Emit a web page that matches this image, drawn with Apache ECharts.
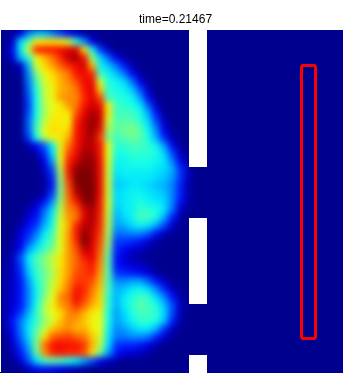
<!DOCTYPE html>
<html>
<head>
<meta charset="utf-8">
<script src="https://cdn.jsdelivr.net/npm/echarts@6/dist/echarts.min.js"></script>
<style>
html,body{margin:0;padding:0;background:#00008f;overflow:hidden}
#c{width:343px;height:373px}
</style>
</head>
<body>
<div id="c"></div>
<script>
const titleText = 'time=0.21467';
const jetColors = ['rgb(0,0,143)','rgb(0,0,188)','rgb(0,0,233)','rgb(0,26,255)','rgb(0,77,255)','rgb(0,128,255)','rgb(0,179,255)','rgb(0,230,255)','rgb(26,255,230)','rgb(77,255,179)','rgb(128,255,128)','rgb(179,255,77)','rgb(230,255,26)','rgb(255,230,0)','rgb(255,179,0)','rgb(255,128,0)','rgb(255,77,0)','rgb(255,26,0)','rgb(230,0,0)','rgb(179,0,0)','rgb(128,0,0)'];
const gridColumns = 43;
const heatRows = [
[0,2,10,26,32,32,26,20,14,8,3],
[0,6,34,46,64,66,66,64,58,42,26,10,2],
[0,12,36,58,84,86,86,88,90,90,66,38,18,6],
[0,8,30,42,62,70,76,84,94,96,86,52,34,22,10,3],
[0,0,6,30,58,66,72,78,84,88,92,70,38,32,24,14,4],
[0,0,2,26,50,62,66,72,76,86,88,84,44,38,32,24,12,3],
[0,0,0,24,44,58,64,70,74,80,88,88,58,40,38,34,24,10,2],
[0,0,0,22,42,56,62,70,72,76,86,90,68,42,40,38,32,20,6],
[0,0,0,20,40,56,62,72,74,74,84,90,80,44,42,40,38,28,12,2],
[0,0,0,18,40,54,60,64,72,76,86,92,88,62,44,42,40,36,22,6],
[0,0,0,20,40,54,62,64,64,80,90,96,92,64,44,44,44,40,30,14,2],
[0,0,0,22,42,56,64,64,62,84,92,98,92,58,46,46,46,42,34,20,6],
[0,0,0,22,44,60,66,64,66,86,92,98,88,54,46,48,50,46,38,26,10,2],
[0,0,0,18,40,56,62,64,70,86,92,96,82,50,44,46,48,46,40,30,16,4],
[0,0,0,4,12,22,38,62,76,86,94,94,86,60,42,42,44,44,42,38,28,12,2],
[0,0,0,0,4,16,34,62,80,88,96,96,86,60,40,40,42,42,42,40,34,20,6],
[0,0,0,0,0,10,28,60,84,92,98,98,88,60,38,38,40,40,40,38,36,26,12,3],
[0,0,0,0,0,6,20,56,86,98,100,98,88,58,36,38,38,38,38,36,34,30,18,6],
[0,0,0,0,0,3,16,52,84,100,100,100,88,58,34,36,36,36,36,34,32,28,18,6],
[0,0,0,0,0,2,14,50,80,98,100,100,88,58,32,34,36,36,34,32,30,26,16,4],
[0,0,0,0,0,4,18,50,78,94,100,100,88,58,34,36,38,38,36,34,32,26,16,4],
[0,0,0,0,4,12,26,52,76,86,98,100,86,58,34,36,38,40,38,36,34,26,14,3],
[0,0,0,4,10,22,34,56,74,78,92,96,86,58,32,36,38,42,42,40,36,24,8,1],
[0,0,0,8,14,26,38,58,72,76,90,96,84,56,30,34,38,44,44,40,30,16,3],
[0,0,4,12,18,30,40,60,70,84,94,94,84,56,28,30,34,38,36,30,20,8,1],
[0,0,8,16,24,36,44,60,72,86,98,92,82,54,24,24,26,26,22,14,6,1],
[0,2,10,20,30,40,46,60,72,84,100,92,80,52,18,18,16,14,8,3],
[0,3,12,28,36,44,50,60,72,80,94,90,78,50,16,12,8,6,3,1],
[1,5,20,36,44,50,56,64,72,78,86,90,76,46,14,8,4,2],
[1,6,18,34,44,50,56,64,72,78,82,86,74,46,14,10,8,6,4],
[2,6,16,32,42,48,54,66,72,80,82,84,72,46,18,16,14,12,8,3],
[3,6,14,28,40,48,56,66,74,82,82,80,70,44,26,26,28,28,22,14,6,1],
[3,6,14,26,38,48,58,68,76,86,84,76,68,44,30,32,36,38,34,26,16,6,1],
[3,7,14,26,38,50,60,74,78,88,82,74,66,42,30,36,40,44,42,34,26,14,4],
[3,8,14,26,40,54,62,72,76,84,78,70,66,42,30,36,42,46,44,40,32,20,6,1],
[3,10,18,30,42,54,60,66,74,76,70,64,62,40,28,34,40,44,44,42,34,20,5],
[3,14,24,34,42,52,58,68,74,72,68,62,60,40,28,32,38,42,42,40,32,16,3],
[2,12,24,36,46,56,68,72,74,70,70,64,60,38,26,28,32,36,36,30,18,6,1],
[0,10,22,34,48,66,78,80,82,78,76,68,58,36,24,24,26,26,24,16,8,2],
[0,6,18,30,50,76,86,88,86,86,82,70,56,34,18,16,16,14,10,4],
[0,4,14,26,46,74,84,86,84,84,80,66,48,28,14,10,8,6,3],
[0,0,8,20,34,44,46,44,40,36,28,20,12,6,3],
[0,0,0,6,12,14,12,10,6,4,2]
];
const gapX = [189, 207];
const gapSpans = [[30,167],[218,304],[355,373]];
const titleBand = [[0,0,343,30],[0,30,1,373]];
const cornerTick = [0,372,2,373];
const redOutlineX = [301.5,302.5,314.5,315.5,315.5,314.5,302.5,301.5];
const redOutlineY = [67,65.5,65.5,67,337,338.5,338.5,337];

const xCats = [], yCats = [], cells = [];
for (let i = 0; i < gridColumns; i++) { xCats.push(String(i)); yCats.push(String(i)); }
for (let r = 0; r < gridColumns; r++) {
  const row = heatRows[r] || [];
  for (let c = 0; c < gridColumns; c++) cells.push([c, r, row[c] || 0]);
}
const boxes = titleBand.map(b => b.concat('#ffffff'))
  .concat(gapSpans.map(s => [gapX[0], s[0], gapX[1], s[1], '#ffffff']))
  .concat([cornerTick.concat('#000000')]);

const chart = echarts.init(document.getElementById('c'), null, {renderer:'canvas'});
chart.setOption({
  animation:false,
  backgroundColor:'#00008f',
  title:{text:titleText,left:134,top:9,zlevel:1,
    textStyle:{fontFamily:'Liberation Sans',fontSize:12,fontWeight:'normal',color:'#000'}},
  visualMap:{show:false,min:0,max:100,seriesIndex:0,inRange:{color:jetColors}},
  grid:[
    {left:1,top:30,width:344,height:344,show:false},
    {left:0,top:0,width:343,height:373,show:false}
  ],
  xAxis:[
    {type:'category',gridIndex:0,data:xCats,show:false},
    {type:'value',gridIndex:1,min:0,max:343,show:false}
  ],
  yAxis:[
    {type:'category',gridIndex:0,data:yCats,inverse:true,show:false},
    {type:'value',gridIndex:1,min:0,max:373,inverse:true,show:false}
  ],
  series:[
    {type:'heatmap',xAxisIndex:0,yAxisIndex:0,data:cells,zlevel:0,progressive:0,itemStyle:{borderWidth:0}},
    {type:'custom',xAxisIndex:1,yAxisIndex:1,zlevel:1,clip:false,silent:true,
      data:boxes,encode:{x:[0,2],y:[1,3]},
      renderItem:(p,api)=>{
        const a=api.coord([api.value(0),api.value(1)]),b=api.coord([api.value(2),api.value(3)]);
        return {type:'rect',shape:{x:a[0],y:a[1],width:b[0]-a[0],height:b[1]-a[1]},
          style:{fill:boxes[p.dataIndex][4]}};
      }},
    {type:'custom',xAxisIndex:1,yAxisIndex:1,zlevel:1,clip:false,silent:true,
      data:redOutlineX.map((x,i)=>[x,redOutlineY[i]]),encode:{x:0,y:1},
      renderItem:(p,api)=>{
        if (p.dataIndex !== 0) return null;
        return {type:'polygon',
          shape:{points:redOutlineX.map((x,i)=>api.coord([x,redOutlineY[i]]))},
          style:{fill:'none',stroke:'#ff0000',lineWidth:3}};
      }}
  ]
});
const canvases = document.querySelectorAll('#c canvas');
if (canvases.length > 1) canvases[0].style.filter = 'blur(3px)';
</script>
</body>
</html>
